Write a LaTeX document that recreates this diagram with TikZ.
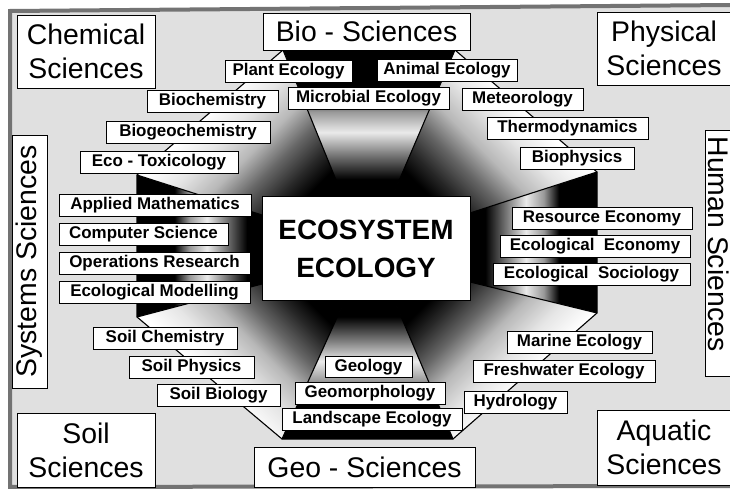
\documentclass[tikz,border=0pt]{standalone}
\usepackage{fontspec}
\setmainfont{Liberation Sans}
% the four faces facing up/down/left/right: dark rim, bright middle, dark throat
\pgfdeclareverticalshading{rimface}{100bp}{%
  color(0bp)=(black); color(25bp)=(black); color(31bp)=(black);
  color(39bp)=(black!55); color(47bp)=(black!8); color(54bp)=(black!40);
  color(60bp)=(black); color(100bp)=(black)}
% the four slanted faces: bright outside, dark towards the centre
\pgfdeclareverticalshading{slantface}{100bp}{%
  color(0bp)=(black); color(25bp)=(black); color(30bp)=(black!85);
  color(37bp)=(black!60); color(44bp)=(black!28); color(52bp)=(black!10);
  color(60bp)=(white); color(100bp)=(white)}
\tikzset{
  field/.style={draw=black, line width=0.9bp, fill=white, inner sep=0pt,
    font=\fontsize{28.5}{34}\selectfont, align=center},
  fieldtext/.style={inner sep=0pt, font=\fontsize{28.5}{34}\selectfont},
  topic/.style={draw=black, line width=0.7bp, fill=white, inner sep=0pt,
    minimum height=22bp, font=\fontsize{17}{17}\selectfont\bfseries},
  rib/.style={line width=1.1bp, draw=black},
}
\begin{document}
\begin{tikzpicture}[x=1bp,y=-1bp]
\useasboundingbox (0,0) rectangle (730,489);

% paper with its frame
\fill[black!12] (10,11) -- (731,5) -- (731,486) -- (10,487) -- cycle;
\draw[black!55, line width=4bp] (731,5) -- (10,11) -- (10,487) -- (731,486);

% outer octagon
\coordinate (V1) at (283,50);  \coordinate (V2) at (455,50);
\coordinate (V3) at (597,172); \coordinate (V4) at (597,313);
\coordinate (V5) at (453,439); \coordinate (V6) at (282,439);
\coordinate (V7) at (137,317); \coordinate (V8) at (137,175);
% inner octagon, on the rim of the central box
\coordinate (W1) at (343,197); \coordinate (W2) at (392,197);
\coordinate (W3) at (470,213); \coordinate (W4) at (470,282);
\coordinate (W5) at (394,300); \coordinate (W6) at (345,300);
\coordinate (W7) at (262,284); \coordinate (W8) at (262,215);

% faces of the funnel
\shade[shading=rimface] (V1) -- (V2) -- (W2) -- (W1) -- cycle;
\shade[shading=rimface, shading angle=180] (V5) -- (V6) -- (W6) -- (W5) -- cycle;
\shade[shading=rimface, shading angle=90] (V7) -- (V8) -- (W8) -- (W7) -- cycle;
\shade[shading=rimface, shading angle=-90] (V3) -- (V4) -- (W4) -- (W3) -- cycle;
\shade[shading=slantface, shading angle=45] (V8) -- (V1) -- (W1) -- (W8) -- cycle;
\shade[shading=slantface, shading angle=-45] (V2) -- (V3) -- (W3) -- (W2) -- cycle;
\shade[shading=slantface, shading angle=135] (V6) -- (V7) -- (W7) -- (W6) -- cycle;
\shade[shading=slantface, shading angle=-135] (V4) -- (V5) -- (W5) -- (W4) -- cycle;

% ribs of the funnel
\draw[rib] (V1) -- (V2) -- (V3) -- (V4) -- (V5) -- (V6) -- (V7) -- (V8) -- cycle;
\foreach \i in {1,...,8} \draw[rib] (V\i) -- (W\i);

% the centre
\node[draw=black, line width=1bp, fill=white, inner sep=0pt,
  minimum width=208bp, minimum height=103bp, align=center,
  font=\fontsize{28}{38}\selectfont\bfseries] (eco) at (366,248.5) {ECOSYSTEM\\ECOLOGY};

% neighbouring sciences
\node[field, minimum width=138bp, minimum height=73bp] (chem) at (86,51.5) {Chemical\\Sciences};
\node[field, minimum width=207bp, minimum height=37bp] (bio) at (366.5,31.5) {Bio - Sciences};
\node[field, minimum width=134bp, minimum height=73bp] (phys) at (664,48.5) {Physical\\Sciences};
\node[field, minimum width=138bp, minimum height=74bp] (soil) at (86,450) {Soil\\Sciences};
\node[field, minimum width=221bp, minimum height=40bp] (geo) at (364.5,467) {Geo - Sciences};
\node[field, minimum width=134bp, minimum height=75bp] (aqua) at (664,447.5) {Aquatic\\Sciences};
\node[field, rotate=90, minimum width=253bp, minimum height=35bp] (sys) at (29.5,261.5) {Systems Sciences};
\draw[line width=0.9bp, fill=white] (705,130) rectangle (740,376);
\node[fieldtext, rotate=-90] (hum) at (719,244) {Human Sciences};

% disciplines between Bio- and Chemical Sciences
\node[topic, minimum width=127bp] (plant) at (288.5,71) {Plant Ecology};
\node[topic, minimum width=131bp] (biochem) at (212.5,101) {Biochemistry};
\node[topic, minimum width=164bp] (biogeo) at (188,132) {Biogeochemistry};
\node[topic, minimum width=158bp] (tox) at (159,162) {Eco - Toxicology};
% between Bio- and Physical Sciences
\node[topic, minimum width=140bp] (animal) at (447,70) {Animal Ecology};
\node[topic, minimum width=161bp] (micro) at (368.5,98.5) {Microbial Ecology};
\node[topic, minimum width=121bp] (meteo) at (522.5,99) {Meteorology};
\node[topic, minimum width=161bp] (thermo) at (567.5,128) {Thermodynamics};
\node[topic, minimum width=114bp] (biophys) at (577,158) {Biophysics};
% systems sciences
\node[topic, minimum width=192bp] (math) at (155,205) {Applied Mathematics};
\node[topic, minimum width=169bp] (comp) at (143.5,234) {Computer Science};
\node[topic, minimum width=191bp] (oper) at (154.5,263) {Operations Research};
\node[topic, minimum width=191bp] (model) at (154.5,292) {Ecological Modelling};
% human sciences
\node[topic, minimum width=180bp] (resource) at (602,218) {Resource Economy};
\node[topic, minimum width=190bp] (econ) at (595,246.5) {Ecological\ \ Economy};
\node[topic, minimum width=197bp] (socio) at (591.5,274) {Ecological\ \ Sociology};
% soil sciences
\node[topic, minimum width=144bp] (soilchem) at (165,338) {Soil Chemistry};
\node[topic, minimum width=125bp] (soilphys) at (191.5,367) {Soil Physics};
\node[topic, minimum width=123bp] (soilbio) at (218.5,395.5) {Soil Biology};
% geo-sciences
\node[topic, minimum width=87bp, minimum height=21bp] (geol) at (368.5,367) {Geology};
\node[topic, minimum width=150bp] (geomorph) at (370,393) {Geomorphology};
\node[topic, minimum width=180bp] (landscape) at (372,419) {Landscape Ecology};
% aquatic sciences
\node[topic, minimum width=145bp] (marine) at (579.5,342) {Marine Ecology};
\node[topic, minimum width=182bp] (fresh) at (564,371) {Freshwater Ecology};
\node[topic, minimum width=103bp] (hydro) at (515.5,402) {Hydrology};
\end{tikzpicture}
\end{document}
